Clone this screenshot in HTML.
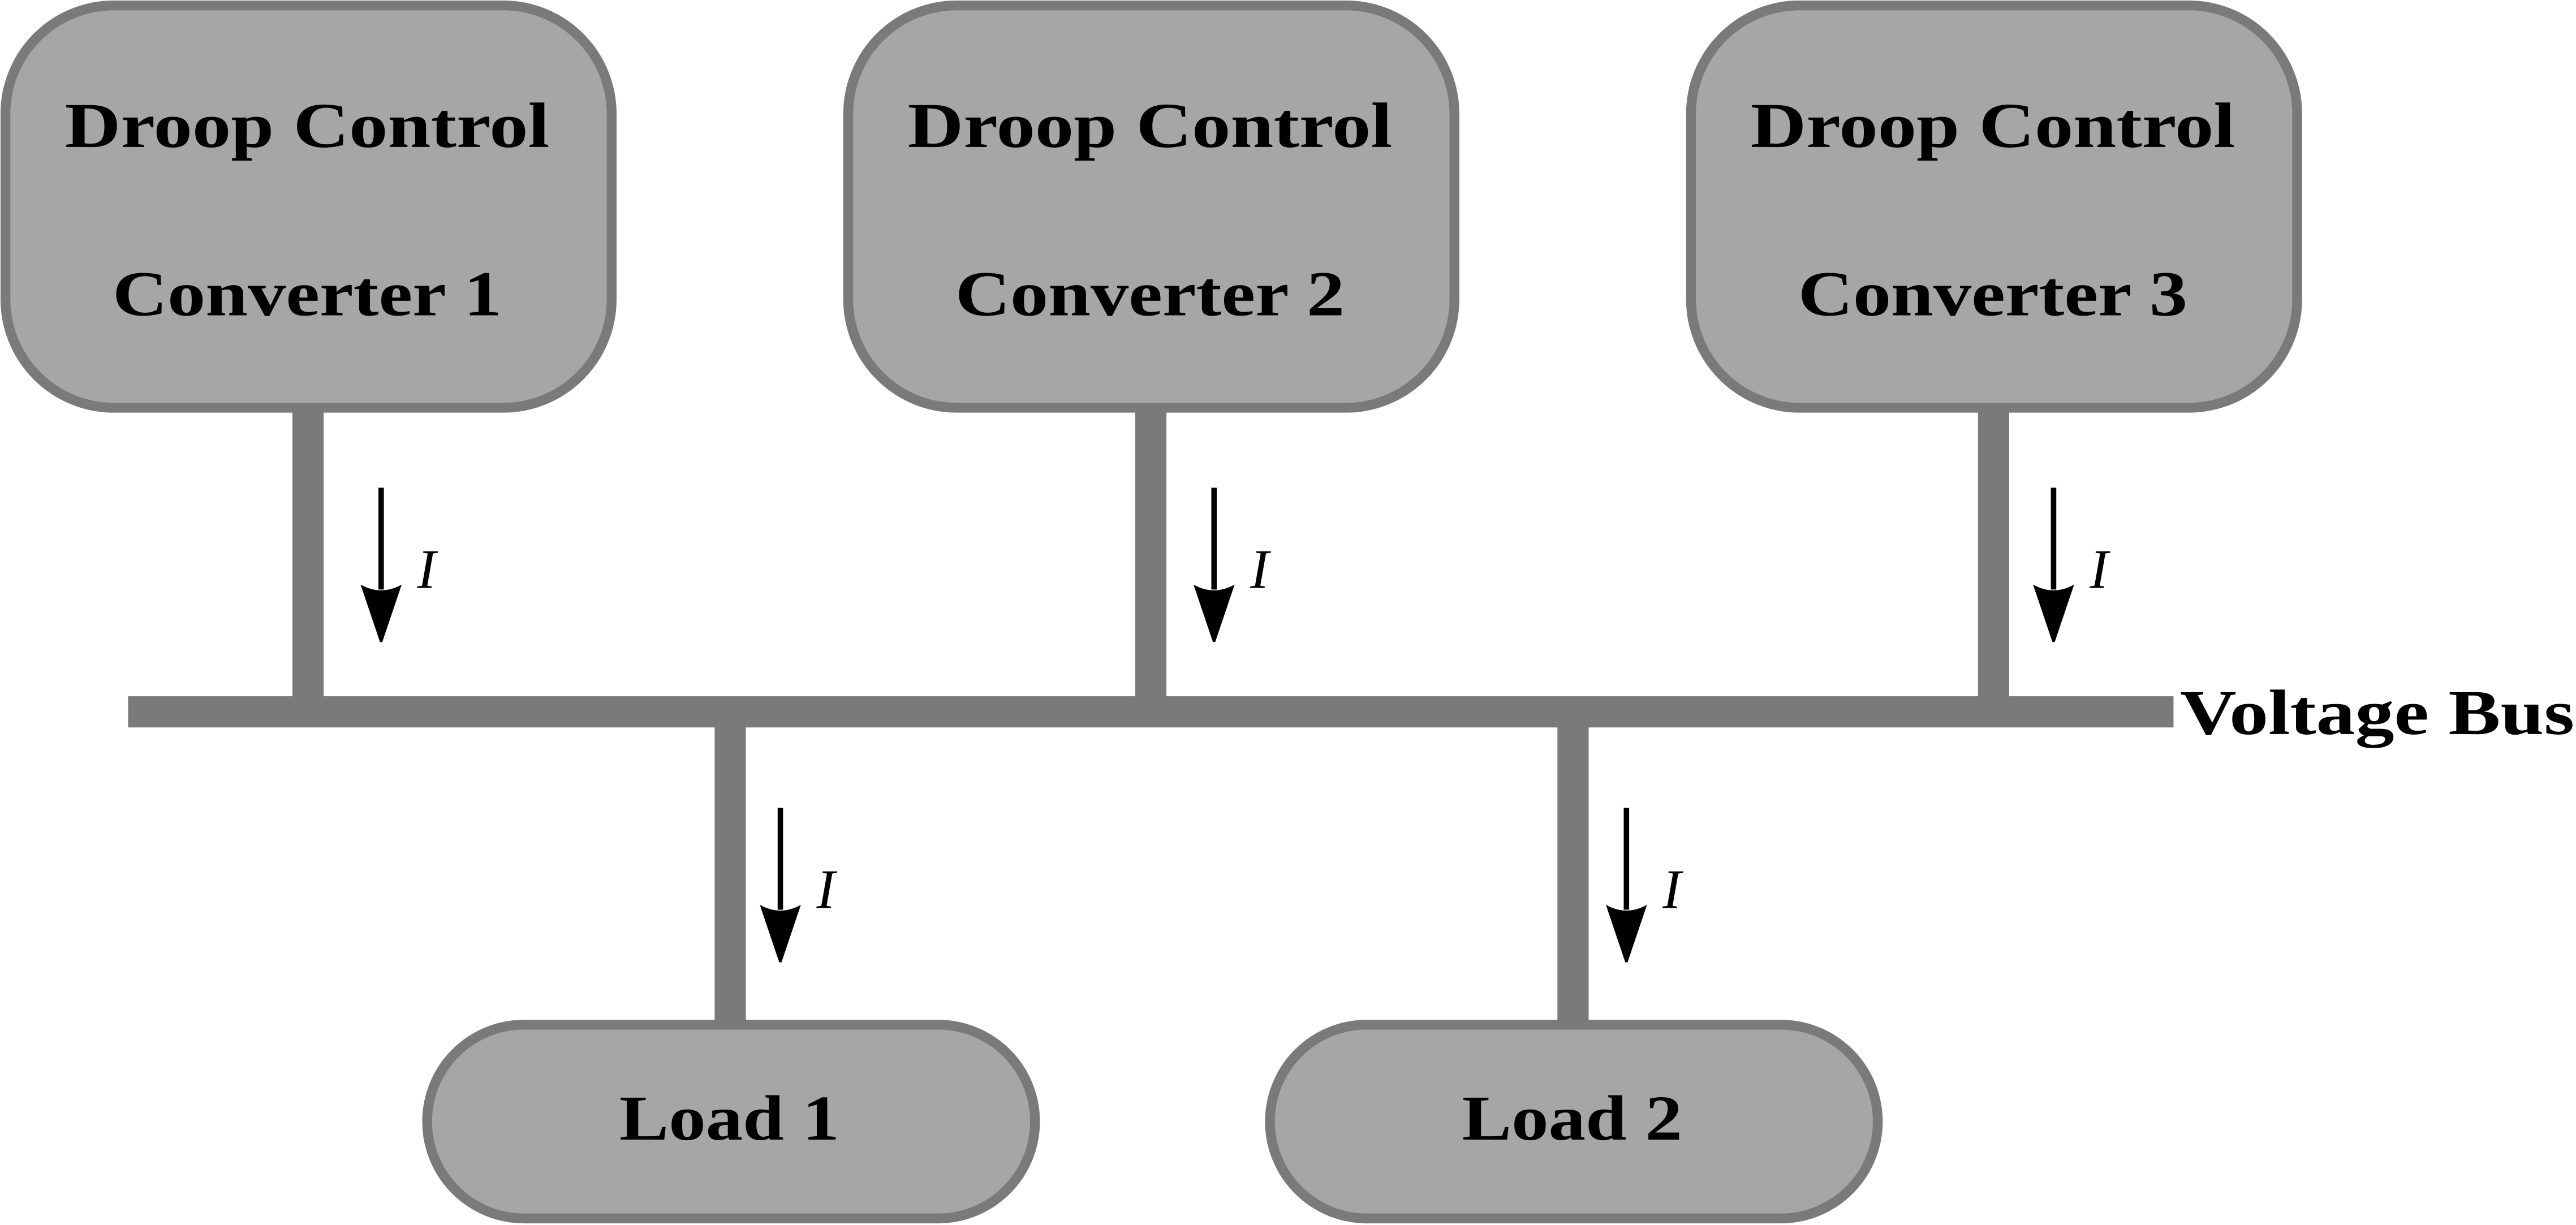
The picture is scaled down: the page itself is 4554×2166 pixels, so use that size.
<!DOCTYPE html>
<html><head><meta charset="utf-8"><style>html,body{margin:0;padding:0;background:#fff}svg{display:block}</style></head>
<body>
<svg width="4554" height="2166" viewBox="0 0 1568 746" preserveAspectRatio="none" xmlns="http://www.w3.org/2000/svg">
<g fill="#7a7a7a">
<rect x="178" y="245" width="19" height="190"/>
<rect x="691" y="245" width="19" height="190"/>
<rect x="1204" y="245" width="19" height="190"/>
<rect x="78" y="424" width="1245" height="19"/>
<rect x="435" y="440" width="19" height="190"/>
<rect x="948" y="440" width="19" height="190"/>
</g>
<g fill="#a6a6a6" stroke="#7a7a7a" stroke-width="6">
<rect x="3.3" y="3.3" width="369" height="245" rx="66" ry="66"/>
<rect x="516.3" y="3.3" width="369" height="245" rx="66" ry="66"/>
<rect x="1029.3" y="3.3" width="369" height="245" rx="66" ry="66"/>
<rect x="260" y="624" width="370" height="118" rx="59" ry="59"/>
<rect x="773" y="624" width="370" height="118" rx="59" ry="59"/>
</g>
<g font-family="'Liberation Serif',serif" font-weight="bold" font-size="39" fill="#000" text-anchor="middle">
<text x="187" y="89.5" textLength="295" lengthAdjust="spacingAndGlyphs">Droop Control</text>
<text x="187" y="192" textLength="237" lengthAdjust="spacingAndGlyphs">Converter 1</text>
<text x="700" y="89.5" textLength="295" lengthAdjust="spacingAndGlyphs">Droop Control</text>
<text x="700" y="192" textLength="237" lengthAdjust="spacingAndGlyphs">Converter 2</text>
<text x="1213" y="89.5" textLength="295" lengthAdjust="spacingAndGlyphs">Droop Control</text>
<text x="1213" y="192" textLength="237" lengthAdjust="spacingAndGlyphs">Converter 3</text>
<text x="444" y="694" textLength="134" lengthAdjust="spacingAndGlyphs">Load 1</text>
<text x="957" y="694" textLength="134" lengthAdjust="spacingAndGlyphs">Load 2</text>
<text x="1447" y="447" textLength="240" lengthAdjust="spacingAndGlyphs">Voltage Bus</text>
</g>
<defs>
<g id="arr">
<line x1="0" y1="0" x2="0" y2="62" stroke="#000" stroke-width="3.3"/>
<path d="M-12.5,59 Q0,66 12.5,59 L0.7,94 L-0.7,94 Z" fill="#000"/>
</g>
</defs>
<use href="#arr" x="232" y="297"/>
<use href="#arr" x="739" y="297"/>
<use href="#arr" x="1250" y="297"/>
<use href="#arr" x="475" y="492"/>
<use href="#arr" x="990" y="492"/>
<g font-family="'Liberation Serif',serif" font-style="italic" font-size="34" fill="#000">
<text x="254" y="358">I</text>
<text x="761" y="358">I</text>
<text x="1272" y="358">I</text>
<text x="497" y="553">I</text>
<text x="1012" y="553">I</text>
</g>
</svg>
</body></html>
